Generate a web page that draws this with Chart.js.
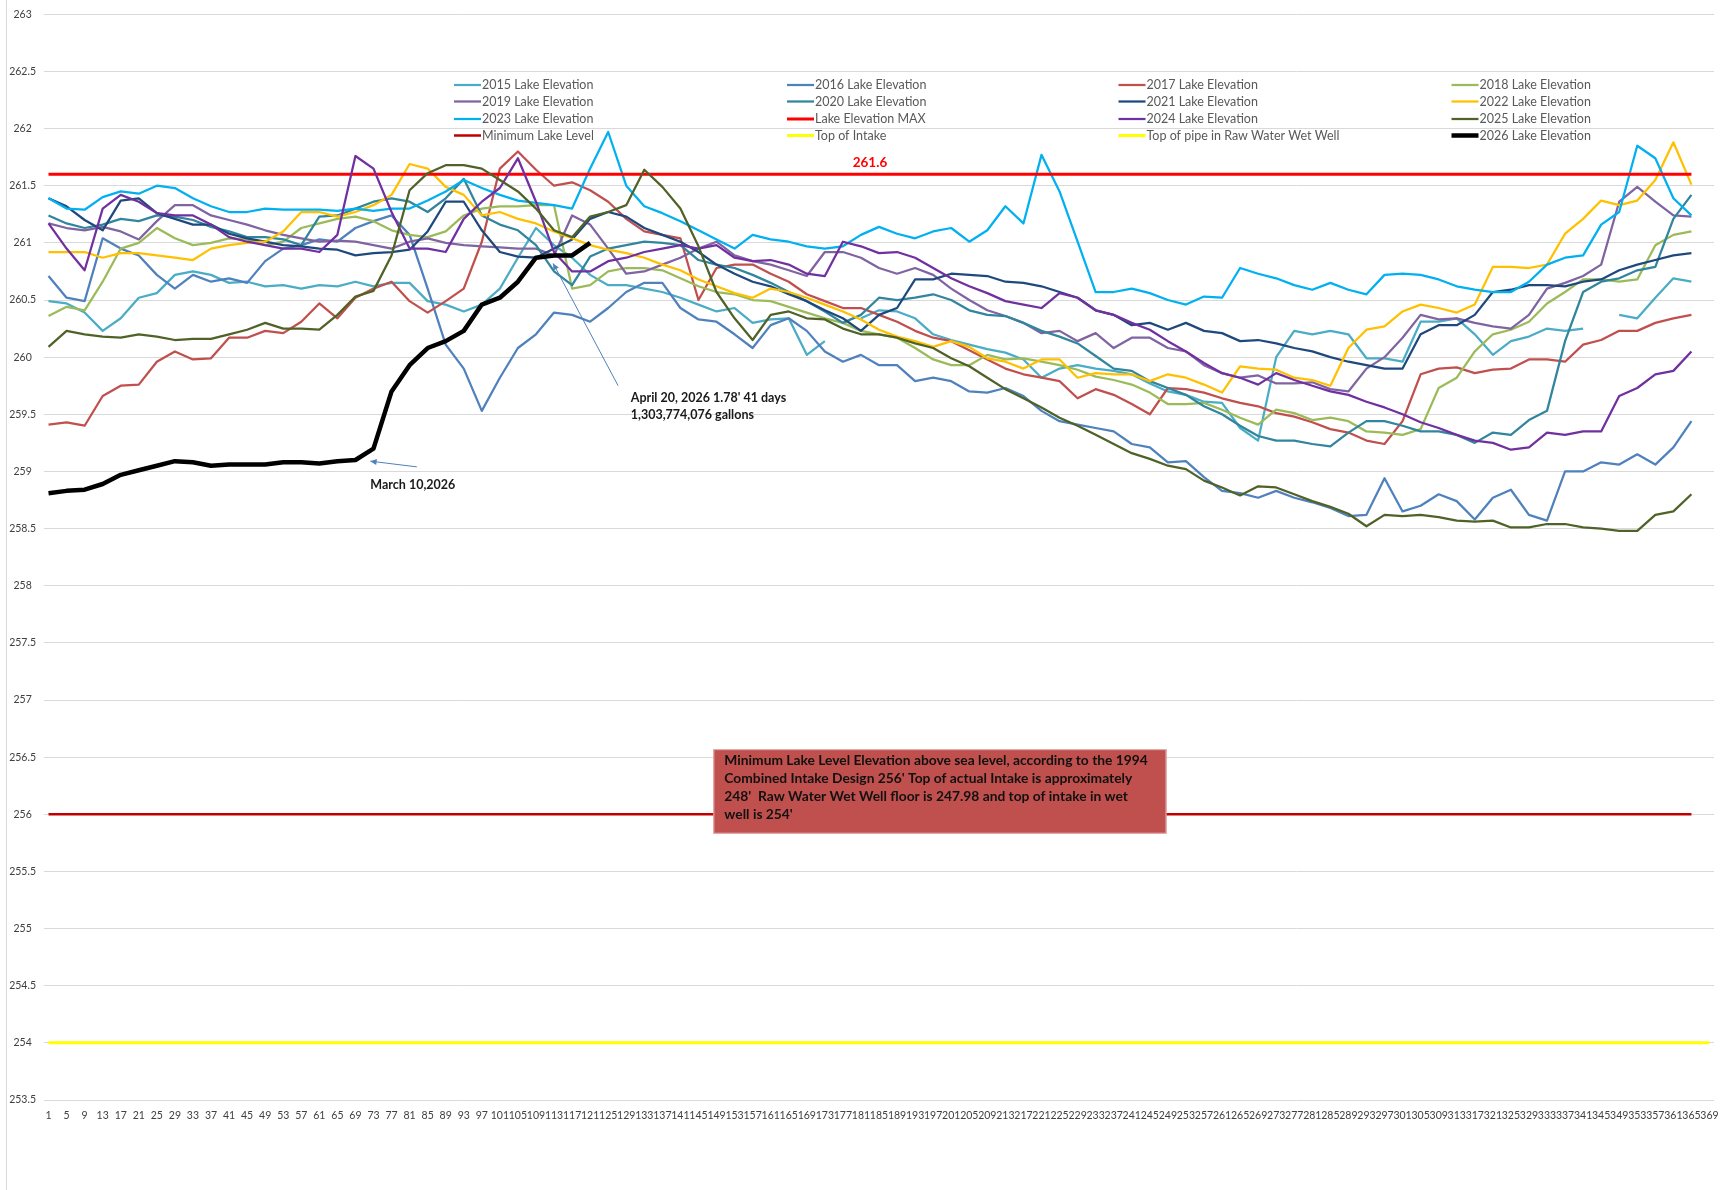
<!DOCTYPE html>
<html>
<head>
<meta charset="utf-8">
<title>Lake Elevation</title>
<script src="https://cdn.jsdelivr.net/npm/chart.js@4.4.1/dist/chart.umd.min.js"></script>
<style>
  html, body { margin: 0; padding: 0; background: #fff; }
  #wrap { width: 1728px; height: 1190px; position: relative; }
</style>
</head>
<body>
<div id="wrap"><canvas id="lakeChart" width="1728" height="1190"></canvas></div>
<script>
// Day of year: the x tick labels, and the days the readings below were taken (every 4th day)
const days = [1, 5, 9, 13, 17, 21, 25, 29, 33, 37, 41, 45, 49, 53, 57, 61, 65, 69, 73, 77, 81, 85, 89, 93,
  97, 101, 105, 109, 113, 117, 121, 125, 129, 133, 137, 141, 145, 149, 153, 157, 161, 165, 169, 173, 177,
  181, 185, 189, 193, 197, 201, 205, 209, 213, 217, 221, 225, 229, 233, 237, 241, 245, 249, 253, 257, 261,
  265, 269, 273, 277, 281, 285, 289, 293, 297, 301, 305, 309, 313, 317, 321, 325, 329, 333, 337, 341, 345,
  349, 353, 357, 361, 365, 369];

// Lake elevation (ft) per year, read every 4 days from day 1
const lake2015 = [260.49, 260.47, 260.39, 260.23, 260.34, 260.52, 260.56, 260.72, 260.75, 260.72, 260.65, 260.66, 260.62, 260.63,
  260.60, 260.63, 260.62, 260.66, 260.62, 260.65, 260.65, 260.49, 260.46, 260.40, 260.46, 260.60, 260.87,
  261.13, 260.98, 260.87, 260.72, 260.63, 260.63, 260.60, 260.57, 260.52, 260.46, 260.40, 260.43, 260.30,
  260.33, 260.34, 260.02, 260.14, null, 260.34, 260.41, 260.40, 260.34, 260.20, 260.15, 260.11, 260.07, 260.04,
  259.98, 259.82, 259.90, 259.93, 259.90, 259.88, 259.85, 259.77, 259.70, 259.67, 259.61, 259.60, 259.38,
  259.27, 260.00, 260.23, 260.20, 260.23, 260.20, 259.99, 259.99, 259.96, 260.31, 260.31, 260.34, 260.20,
  260.02, 260.14, 260.18, 260.25, 260.23, 260.25, null, 260.37, 260.34, 260.52, 260.69, 260.66];
const lake2016 = [260.71, 260.52, 260.49, 261.04, 260.95, 260.89, 260.72, 260.60, 260.72, 260.66, 260.69, 260.65, 260.84, 260.95,
  260.98, 261.03, 261.01, 261.13, 261.19, 261.24, 261.07, 260.60, 260.11, 259.90, 259.53, 259.82, 260.08,
  260.20, 260.39, 260.37, 260.31, 260.43, 260.57, 260.65, 260.65, 260.43, 260.33, 260.31, 260.20, 260.08,
  260.28, 260.34, 260.23, 260.05, 259.96, 260.02, 259.93, 259.93, 259.79, 259.82, 259.79, 259.70, 259.69, 259.73,
  259.66, 259.53, 259.44, 259.41, 259.38, 259.35, 259.24, 259.21, 259.08, 259.09, 258.95, 258.83, 258.81,
  258.77, 258.83, 258.77, 258.73, 258.68, 258.61, 258.62, 258.94, 258.65, 258.70, 258.80, 258.74, 258.58,
  258.77, 258.84, 258.62, 258.57, 259.00, 259.00, 259.08, 259.06, 259.15, 259.06, 259.21, 259.44];
const lake2017 = [259.41, 259.43, 259.40, 259.66, 259.75, 259.76, 259.96, 260.05, 259.98, 259.99, 260.17, 260.17, 260.23, 260.21,
  260.31, 260.47, 260.34, 260.52, 260.60, 260.66, 260.49, 260.39, 260.49, 260.60, 261.01, 261.65, 261.80,
  261.64, 261.50, 261.53, 261.46, 261.36, 261.21, 261.10, 261.07, 261.04, 260.50, 260.78, 260.81, 260.81,
  260.73, 260.66, 260.55, 260.49, 260.43, 260.43, 260.37, 260.31, 260.23, 260.17, 260.14, 260.06, 259.98, 259.90,
  259.85, 259.82, 259.79, 259.64, 259.72, 259.67, 259.59, 259.50, 259.73, 259.72, 259.69, 259.64, 259.60,
  259.57, 259.51, 259.48, 259.43, 259.37, 259.34, 259.27, 259.24, 259.44, 259.85, 259.90, 259.91, 259.86,
  259.89, 259.90, 259.98, 259.98, 259.96, 260.11, 260.15, 260.23, 260.23, 260.30, 260.34, 260.37];
const lake2018 = [260.36, 260.44, 260.41, 260.66, 260.95, 261.00, 261.13, 261.04, 260.98, 261.00, 261.04, 261.03, 260.98, 261.01,
  261.13, 261.17, 261.21, 261.23, 261.19, 261.11, 261.07, 261.05, 261.10, 261.24, 261.30, 261.32, 261.32,
  261.33, 261.33, 260.60, 260.63, 260.75, 260.78, 260.78, 260.76, 260.69, 260.62, 260.57, 260.55, 260.50,
  260.49, 260.44, 260.39, 260.34, 260.30, 260.23, 260.20, 260.17, 260.08, 259.98, 259.93, 259.93, 260.02, 259.98,
  259.99, 259.96, 259.93, 259.89, 259.83, 259.80, 259.76, 259.69, 259.59, 259.59, 259.60, 259.54, 259.47,
  259.41, 259.54, 259.51, 259.45, 259.47, 259.44, 259.35, 259.34, 259.32, 259.37, 259.73, 259.82, 260.05,
  260.20, 260.24, 260.31, 260.47, 260.57, 260.68, 260.68, 260.66, 260.68, 260.98, 261.07, 261.10];
const lake2019 = [261.17, 261.13, 261.11, 261.14, 261.10, 261.03, 261.19, 261.33, 261.33, 261.24, 261.20, 261.16, 261.11, 261.07,
  261.04, 261.01, 261.02, 261.01, 260.98, 260.95, 261.01, 261.04, 261.00, 260.98, 260.97, 260.96, 260.95,
  260.95, 260.89, 261.24, 261.16, 260.95, 260.73, 260.75, 260.81, 260.87, 260.95, 261.01, 260.89, 260.84,
  260.81, 260.76, 260.71, 260.92, 260.92, 260.87, 260.78, 260.73, 260.78, 260.72, 260.60, 260.50, 260.41, 260.36,
  260.30, 260.21, 260.23, 260.14, 260.21, 260.08, 260.17, 260.17, 260.08, 260.05, 259.93, 259.86, 259.82,
  259.84, 259.77, 259.77, 259.78, 259.72, 259.70, 259.90, 260.00, 260.17, 260.37, 260.33, 260.34, 260.30,
  260.27, 260.25, 260.37, 260.60, 260.65, 260.71, 260.81, 261.36, 261.49, 261.36, 261.24, 261.23];
const lake2020 = [261.24, 261.17, 261.13, 261.16, 261.21, 261.19, 261.24, 261.23, 261.20, 261.14, 261.10, 261.05, 261.05, 261.03,
  260.98, 261.23, 261.24, 261.30, 261.36, 261.39, 261.36, 261.27, 261.39, 261.56, 261.24, 261.16, 261.11,
  260.98, 260.75, 260.63, 260.88, 260.95, 260.98, 261.01, 261.00, 260.98, 260.85, 260.81, 260.78, 260.72,
  260.65, 260.57, 260.49, 260.40, 260.30, 260.37, 260.52, 260.50, 260.52, 260.55, 260.50, 260.41, 260.37, 260.36,
  260.30, 260.23, 260.18, 260.12, 260.01, 259.90, 259.88, 259.79, 259.73, 259.67, 259.57, 259.50, 259.40,
  259.31, 259.27, 259.27, 259.24, 259.22, 259.34, 259.44, 259.44, 259.40, 259.35, 259.35, 259.32, 259.25,
  259.34, 259.32, 259.45, 259.53, 260.14, 260.57, 260.66, 260.69, 260.76, 260.79, 261.21, 261.42];
const lake2021 = [261.39, 261.32, 261.20, 261.11, 261.37, 261.39, 261.26, 261.21, 261.16, 261.16, 261.08, 261.04, 261.01, 260.98,
  260.97, 260.95, 260.94, 260.89, 260.91, 260.92, 260.94, 261.10, 261.36, 261.36, 261.11, 260.92, 260.88,
  260.87, 260.95, 261.03, 261.21, 261.27, 261.23, 261.13, 261.07, 261.01, 260.92, 260.81, 260.73, 260.66,
  260.62, 260.55, 260.49, 260.41, 260.34, 260.23, 260.37, 260.43, 260.68, 260.68, 260.73, 260.72, 260.71, 260.66,
  260.65, 260.62, 260.57, 260.52, 260.41, 260.37, 260.28, 260.30, 260.24, 260.30, 260.23, 260.21, 260.14,
  260.15, 260.12, 260.08, 260.05, 260.00, 259.96, 259.93, 259.90, 259.90, 260.20, 260.28, 260.28, 260.37,
  260.57, 260.59, 260.63, 260.63, 260.62, 260.66, 260.68, 260.76, 260.81, 260.85, 260.89, 260.91];
const lake2022 = [260.92, 260.92, 260.92, 260.87, 260.91, 260.91, 260.89, 260.87, 260.85, 260.95, 260.98, 261.00, 261.01, 261.10,
  261.27, 261.27, 261.23, 261.27, 261.33, 261.42, 261.69, 261.65, 261.49, 261.42, 261.24, 261.27, 261.21,
  261.17, 261.10, 261.04, 260.98, 260.94, 260.91, 260.87, 260.81, 260.76, 260.68, 260.62, 260.56, 260.52,
  260.60, 260.57, 260.52, 260.46, 260.40, 260.33, 260.24, 260.18, 260.14, 260.09, 260.14, 260.09, 259.99, 259.96,
  259.90, 259.98, 259.98, 259.82, 259.86, 259.85, 259.85, 259.79, 259.85, 259.82, 259.76, 259.69, 259.92,
  259.90, 259.89, 259.82, 259.80, 259.75, 260.08, 260.24, 260.27, 260.40, 260.46, 260.43, 260.39, 260.46,
  260.79, 260.79, 260.78, 260.81, 261.08, 261.21, 261.37, 261.33, 261.37, 261.55, 261.88, 261.51];
const lake2023 = [261.39, 261.30, 261.29, 261.40, 261.45, 261.43, 261.50, 261.48, 261.39, 261.32, 261.27, 261.27, 261.30, 261.29,
  261.29, 261.29, 261.28, 261.30, 261.28, 261.30, 261.30, 261.37, 261.45, 261.55, 261.48, 261.42, 261.37,
  261.35, 261.33, 261.30, 261.65, 261.97, 261.50, 261.32, 261.26, 261.19, 261.11, 261.03, 260.95, 261.07,
  261.03, 261.01, 260.97, 260.95, 260.97, 261.07, 261.14, 261.08, 261.04, 261.10, 261.13, 261.01, 261.11, 261.32,
  261.17, 261.77, 261.45, 261.01, 260.57, 260.57, 260.60, 260.56, 260.50, 260.46, 260.53, 260.52, 260.78,
  260.73, 260.69, 260.63, 260.59, 260.65, 260.59, 260.55, 260.72, 260.73, 260.72, 260.68, 260.62, 260.59,
  260.57, 260.57, 260.66, 260.81, 260.87, 260.89, 261.16, 261.27, 261.85, 261.74, 261.39, 261.24];
const lake2024 = [261.17, 260.95, 260.76, 261.30, 261.42, 261.36, 261.26, 261.24, 261.24, 261.16, 261.05, 261.01, 260.98, 260.95,
  260.95, 260.92, 261.07, 261.76, 261.65, 261.27, 260.95, 260.95, 260.92, 261.21, 261.36, 261.48, 261.74,
  261.36, 260.92, 260.75, 260.75, 260.84, 260.87, 260.92, 260.95, 260.98, 260.95, 260.98, 260.87, 260.84,
  260.85, 260.81, 260.73, 260.71, 261.01, 260.97, 260.91, 260.92, 260.87, 260.78, 260.69, 260.62, 260.56, 260.49,
  260.46, 260.43, 260.56, 260.52, 260.41, 260.37, 260.30, 260.24, 260.14, 260.05, 259.95, 259.86, 259.82,
  259.76, 259.86, 259.80, 259.75, 259.70, 259.67, 259.61, 259.56, 259.50, 259.43, 259.38, 259.32, 259.27,
  259.25, 259.19, 259.21, 259.34, 259.32, 259.35, 259.35, 259.66, 259.73, 259.85, 259.88, 260.05];
const lake2025 = [260.09, 260.23, 260.20, 260.18, 260.17, 260.20, 260.18, 260.15, 260.16, 260.16, 260.20, 260.24, 260.30, 260.25,
  260.25, 260.24, 260.37, 260.53, 260.58, 260.89, 261.46, 261.61, 261.68, 261.68, 261.65, 261.55, 261.45,
  261.30, 261.11, 261.05, 261.23, 261.27, 261.33, 261.64, 261.49, 261.30, 260.97, 260.57, 260.34, 260.15,
  260.37, 260.40, 260.34, 260.33, 260.25, 260.20, 260.20, 260.17, 260.12, 260.08, 259.99, 259.92, 259.82, 259.72,
  259.64, 259.56, 259.47, 259.40, 259.32, 259.24, 259.16, 259.11, 259.05, 259.02, 258.92, 258.86, 258.79,
  258.87, 258.86, 258.80, 258.74, 258.69, 258.63, 258.52, 258.62, 258.61, 258.62, 258.60, 258.57, 258.56,
  258.57, 258.51, 258.51, 258.54, 258.54, 258.51, 258.50, 258.48, 258.48, 258.62, 258.65, 258.80];
const lake2026 = [258.81, 258.83, 258.84, 258.89, 258.97, 259.01, 259.05, 259.09, 259.08, 259.05, 259.06, 259.06, 259.06, 259.08,
  259.08, 259.07, 259.09, 259.10, 259.20, 259.70, 259.93, 260.08, 260.14, 260.23, 260.46, 260.52, 260.66,
  260.87, 260.89, 260.89, 261.00];

// Reference levels (ft)
const maxLevel = 261.6;
const minLevel = 256;
const topOfIntake = 248;
const topOfPipe = 254;

const toPoints = vals => vals.map((v, i) => ({ x: days[i], y: v }));
const level = (v, n) => days.slice(0, n).map(d => ({ x: d, y: v }));

const series = [
  { label: '2015 Lake Elevation', data: toPoints(lake2015), color: '#4BACC6', width: 2.25 },
  { label: '2016 Lake Elevation', data: toPoints(lake2016), color: '#4F81BD', width: 2.25 },
  { label: '2017 Lake Elevation', data: toPoints(lake2017), color: '#C0504D', width: 2.25 },
  { label: '2018 Lake Elevation', data: toPoints(lake2018), color: '#9BBB59', width: 2.25 },
  { label: '2019 Lake Elevation', data: toPoints(lake2019), color: '#8064A2', width: 2.25 },
  { label: '2020 Lake Elevation', data: toPoints(lake2020), color: '#31859C', width: 2.25 },
  { label: '2021 Lake Elevation', data: toPoints(lake2021), color: '#1F497D', width: 2.25 },
  { label: '2022 Lake Elevation', data: toPoints(lake2022), color: '#FFC000', width: 2.25 },
  { label: '2023 Lake Elevation', data: toPoints(lake2023), color: '#00B0F0', width: 2.25 },
  { label: 'Lake Elevation MAX', data: level(maxLevel, 92), color: '#FF0000', width: 3 },
  { label: '2024 Lake Elevation', data: toPoints(lake2024), color: '#7030A0', width: 2.25 },
  { label: '2025 Lake Elevation', data: toPoints(lake2025), color: '#4F6228', width: 2.25 },
  { label: 'Minimum Lake Level', data: level(minLevel, 92), color: '#C00000', width: 2.5 },
  { label: 'Top of Intake', data: level(topOfIntake, 93), color: '#FFFF00', width: 3 },
  { label: 'Top of pipe in Raw Water Wet Well', data: level(topOfPipe, 93), color: '#FFFF00', width: 3 },
  { label: '2026 Lake Elevation', data: toPoints(lake2026), color: '#000000', width: 4.5 }
];

const tickFont = { family: 'Lato', size: 10.5 };

function arrow(ctx, x1, y1, x2, y2) {
  ctx.beginPath();
  ctx.moveTo(x1, y1);
  ctx.lineTo(x2, y2);
  ctx.stroke();
  const a = Math.atan2(y2 - y1, x2 - x1), s = 7;
  ctx.beginPath();
  ctx.moveTo(x2, y2);
  ctx.lineTo(x2 - s * Math.cos(a - 0.45), y2 - s * Math.sin(a - 0.45));
  ctx.lineTo(x2 - s * Math.cos(a + 0.45), y2 - s * Math.sin(a + 0.45));
  ctx.closePath();
  ctx.fill();
}

// legend grid, notes and the outer frame line
const lakeOverlay = {
  id: 'lakeOverlay',
  beforeDraw(chart) {
    const ctx = chart.ctx;
    ctx.save();
    ctx.strokeStyle = '#D9D9D9';
    ctx.lineWidth = 1;
    ctx.beginPath();
    ctx.moveTo(6.5, 0);
    ctx.lineTo(6.5, chart.height);
    ctx.stroke();
    ctx.restore();
  },
  afterDraw(chart) {
    const { ctx, scales: { x, y } } = chart;
    ctx.save();

    // legend: 4 columns, filled row by row
    const cols = [454, 787, 1118.5, 1451.5];
    const rows = [85, 101.5, 119, 135.5];
    ctx.font = '12.5px Lato';
    ctx.textBaseline = 'middle';
    ctx.textAlign = 'left';
    chart.data.datasets.forEach((ds, i) => {
      const lx = cols[i % 4], ly = rows[Math.floor(i / 4)];
      ctx.strokeStyle = ds.borderColor;
      ctx.lineWidth = ds.borderWidth;
      ctx.beginPath();
      ctx.moveTo(lx, ly);
      ctx.lineTo(lx + 27, ly);
      ctx.stroke();
      ctx.fillStyle = '#595959';
      ctx.fillText(ds.label, lx + 28, ly);
    });

    // MAX label
    ctx.font = 'bold 13.5px Lato';
    ctx.fillStyle = '#FF0000';
    ctx.textAlign = 'center';
    ctx.fillText('261.6', x.getPixelForValue(183), y.getPixelForValue(261.7));

    // notes with arrows
    ctx.strokeStyle = '#4F81BD';
    ctx.fillStyle = '#4F81BD';
    ctx.lineWidth = 1;
    arrow(ctx, x.getPixelForValue(127.2), y.getPixelForValue(259.75), x.getPixelForValue(112.8), y.getPixelForValue(260.82));
    arrow(ctx, x.getPixelForValue(82.6), y.getPixelForValue(259.04), x.getPixelForValue(72.3), y.getPixelForValue(259.09));

    ctx.font = 'bold 12.5px Lato';
    ctx.fillStyle = '#1a1a1a';
    ctx.textAlign = 'left';
    ctx.fillText("April 20, 2026 1.78' 41 days", x.getPixelForValue(130), y.getPixelForValue(259.64));
    ctx.fillText('1,303,774,076 gallons', x.getPixelForValue(130), y.getPixelForValue(259.49));
    ctx.fillText('March 10,2026', x.getPixelForValue(72.3), y.getPixelForValue(258.88));

    // note box over the minimum level line
    const bx = x.getPixelForValue(148.3), by = y.getPixelForValue(256.57);
    const bw = x.getPixelForValue(248.7) - bx, bh = y.getPixelForValue(255.83) - by;
    ctx.fillStyle = '#C0504D';
    ctx.fillRect(bx, by, bw, bh);
    ctx.strokeStyle = '#E6B9B8';
    ctx.strokeRect(bx + 0.5, by + 0.5, bw - 1, bh - 1);
    const note = [
      'Minimum Lake Level Elevation above sea level, according to the 1994',
      "Combined Intake Design 256' Top of actual Intake is approximately",
      "248'  Raw Water Wet Well floor is 247.98 and top of intake in wet",
      "well is 254'"
    ];
    ctx.font = 'bold 13.8px Lato';
    ctx.fillStyle = '#111111';
    note.forEach((t, i) => ctx.fillText(t, bx + 11, by + 11 + i * 18));

    ctx.restore();
  }
};

const ctx = document.getElementById('lakeChart').getContext('2d');
new Chart(ctx, {
  type: 'line',
  data: {
    datasets: series.map((s, i) => ({
      label: s.label,
      data: s.data,
      borderColor: s.color,
      backgroundColor: s.color,
      borderWidth: s.width,
      pointRadius: 0,
      tension: 0,
      fill: false,
      spanGaps: false,
      borderJoinStyle: 'round',
      order: series.length - i
    }))
  },
  options: {
    responsive: false,
    animation: false,
    layout: { padding: { left: 4, right: 14, top: 13, bottom: 68 } },
    plugins: {
      legend: { display: false },
      tooltip: { enabled: false }
    },
    scales: {
      x: {
        type: 'linear',
        min: 0,
        max: 370,
        afterBuildTicks: axis => { axis.ticks = days.map(v => ({ value: v })); },
        afterFit: axis => { axis.height = 22; },
        ticks: { autoSkip: false, maxRotation: 0, minRotation: 0, padding: 1, color: '#404040', font: tickFont, callback: v => String(v) },
        grid: { display: false },
        border: { display: false }
      },
      y: {
        min: 253.5,
        max: 263,
        afterFit: axis => { axis.width = 40; },
        ticks: { stepSize: 0.5, padding: 8, crossAlign: 'center', color: '#404040', font: tickFont, callback: v => String(v) },
        grid: { color: '#D9D9D9', lineWidth: 1, drawTicks: false },
        border: { display: false }
      }
    }
  },
  plugins: [lakeOverlay]
});
</script>
</body>
</html>
